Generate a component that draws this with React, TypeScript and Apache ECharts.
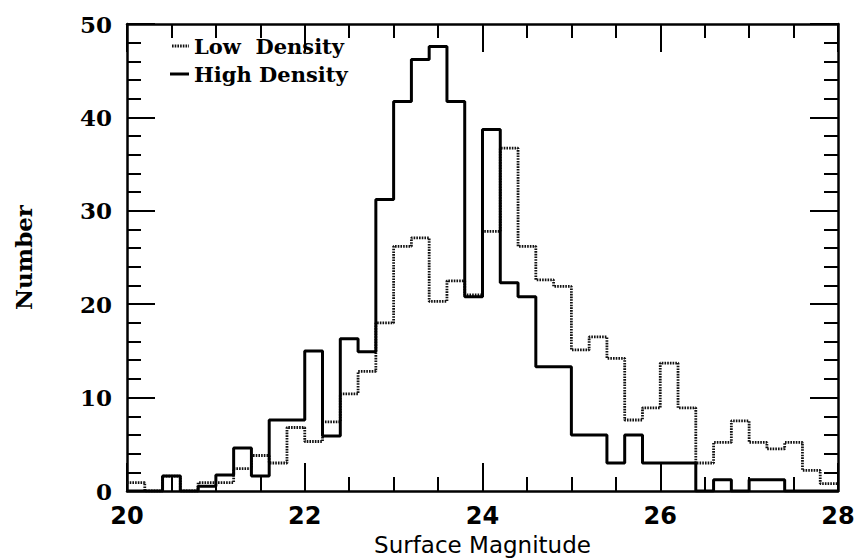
import React, { useEffect, useRef } from "react";
import * as echarts from "echarts";

// Left edges of the 0.2-mag bins
const BIN_LEFT = [
  20.0, 20.2, 20.4, 20.6, 20.8, 21.0, 21.2, 21.4, 21.6, 21.8,
  22.0, 22.2, 22.4, 22.6, 22.8, 23.0, 23.2, 23.4, 23.6, 23.8,
  24.0, 24.2, 24.4, 24.6, 24.8, 25.0, 25.2, 25.4, 25.6, 25.8,
  26.0, 26.2, 26.4, 26.6, 26.8, 27.0, 27.2, 27.4, 27.6, 27.8,
];
const X_MAX = 28;

const HIGH_DENSITY = [
  0, 0, 1.6, 0, 0.5, 1.7, 4.6, 1.6, 7.6, 7.6,
  15.0, 5.9, 16.3, 14.9, 31.2, 41.7, 46.2, 47.6, 41.7, 20.8,
  38.7, 22.3, 20.8, 13.3, 13.3, 6.0, 6.0, 3.0, 6.0, 3.0,
  3.0, 3.0, 0, 1.2, 0, 1.2, 1.2, 0, 0, 0,
];

const LOW_DENSITY = [
  0.9, 0, 1.6, 0, 0.9, 0.9, 2.4, 3.8, 3.0, 6.8,
  5.3, 7.4, 10.4, 12.8, 18.0, 26.2, 27.1, 20.3, 22.5, 21.0,
  27.8, 36.7, 26.2, 22.6, 21.9, 15.1, 16.5, 14.2, 7.6, 8.9,
  13.7, 8.9, 3.0, 5.2, 7.5, 5.2, 4.5, 5.2, 2.2, 0.8,
];

const X_TICKS = { min: 20, max: 28, interval: 2 };
const Y_TICKS = { min: 0, max: 50, interval: 10 };

const LEGEND_LABELS = ["Low  Density", "High Density"];

function toSteps(values: number[]) {
  const pts = BIN_LEFT.map((x, i) => [x, values[i]]);
  pts.push([X_MAX, values[values.length - 1]]);
  return pts;
}

export default function App() {
  const ref = useRef<HTMLDivElement>(null);

  useEffect(() => {
    if (!ref.current) return;
    const chart = echarts.init(ref.current, null, { renderer: "svg" });

    const serif = "'DejaVu Serif', serif";
    const sans = "'DejaVu Sans', sans-serif";
    const axisLineStyle = { color: "#000", width: 2.5 };
    const tickStyle = { color: "#000", width: 2 };
    const dotted = [1.6, 1.1];

    const xCommon = {
      type: "value" as const,
      min: X_TICKS.min,
      max: X_TICKS.max,
      interval: X_TICKS.interval,
      axisLine: { show: true, onZero: false, lineStyle: axisLineStyle },
      axisTick: { show: true, inside: true, length: 28, lineStyle: tickStyle },
      minorTick: { show: true, splitNumber: 4, length: 14, lineStyle: tickStyle },
      splitLine: { show: false },
      minorSplitLine: { show: false },
    };
    const yCommon = {
      type: "value" as const,
      min: Y_TICKS.min,
      max: Y_TICKS.max,
      interval: Y_TICKS.interval,
      axisLine: { show: true, onZero: false, lineStyle: axisLineStyle },
      axisTick: { show: true, inside: true, length: 28, lineStyle: tickStyle },
      minorTick: { show: true, splitNumber: 5, length: 14, lineStyle: tickStyle },
      splitLine: { show: false },
      minorSplitLine: { show: false },
    };

    chart.setOption({
      animation: false,
      backgroundColor: "#fff",
      grid: {
        left: 127,
        top: 24,
        width: 711,
        height: 467,
        containLabel: false,
        outerBoundsMode: "none",
      },
      xAxis: [
        {
          ...xCommon,
          position: "bottom",
          axisLabel: {
            show: true,
            margin: 13,
            color: "#000",
            fontFamily: sans,
            fontSize: 24,
            fontWeight: "bold",
          },
          name: "Surface Magnitude",
          nameLocation: "middle",
          nameGap: 42,
          nameMoveOverlap: false,
          nameTextStyle: { color: "#000", fontFamily: sans, fontSize: 23 },
        },
        { ...xCommon, position: "top", axisLabel: { show: false } },
      ],
      yAxis: [
        {
          ...yCommon,
          position: "left",
          axisLabel: {
            show: true,
            margin: 15,
            color: "#000",
            fontFamily: serif,
            fontSize: 23,
            fontWeight: "bold",
          },
          name: "Number",
          nameLocation: "middle",
          nameGap: 92,
          nameRotate: 90,
          nameMoveOverlap: false,
          nameTextStyle: { color: "#000", fontFamily: serif, fontSize: 23, fontWeight: "bold" },
        },
        { ...yCommon, position: "right", axisLabel: { show: false } },
      ],
      series: [
        {
          name: "Low Density",
          type: "line",
          step: "end",
          symbol: "none",
          data: toSteps(LOW_DENSITY),
          lineStyle: { color: "#111", width: 2.8, type: dotted },
          z: 2,
        },
        {
          name: "High Density",
          type: "line",
          step: "end",
          symbol: "none",
          data: toSteps(HIGH_DENSITY),
          lineStyle: { color: "#000", width: 3 },
          z: 3,
        },
      ],
      graphic: [
        {
          type: "line",
          shape: { x1: 172, y1: 46, x2: 189, y2: 46 },
          style: { stroke: "#111", lineWidth: 2.8, lineDash: dotted },
        },
        {
          type: "text",
          x: 194,
          y: 46,
          style: {
            text: LEGEND_LABELS[0],
            fill: "#000",
            font: `bold 21px ${serif}`,
            textVerticalAlign: "middle",
          },
        },
        {
          type: "line",
          shape: { x1: 170, y1: 74, x2: 189, y2: 74 },
          style: { stroke: "#000", lineWidth: 3 },
        },
        {
          type: "text",
          x: 194,
          y: 74,
          style: {
            text: LEGEND_LABELS[1],
            fill: "#000",
            font: `bold 21px ${serif}`,
            textVerticalAlign: "middle",
          },
        },
      ],
    });

    return () => chart.dispose();
  }, []);

  return (
    <div
      ref={ref}
      style={{ position: "fixed", left: 0, top: 0, width: 855, height: 560, background: "#fff" }}
    />
  );
}
